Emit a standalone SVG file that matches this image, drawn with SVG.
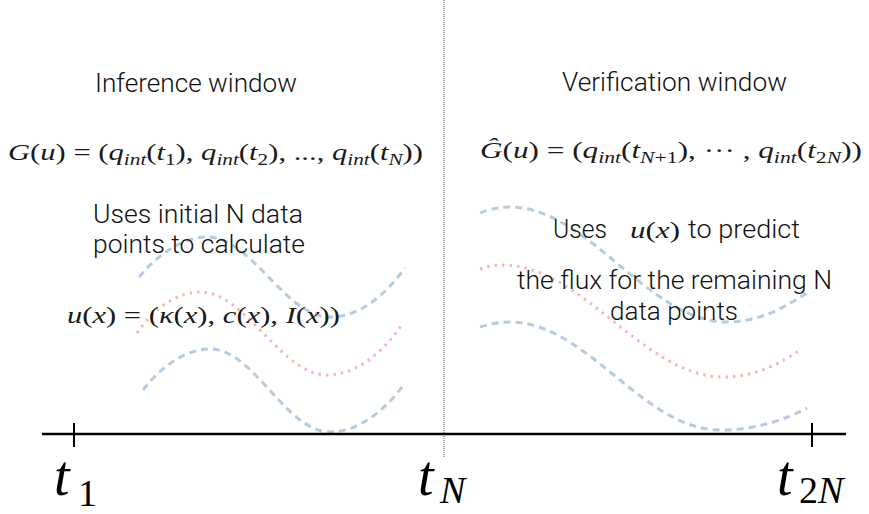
<svg xmlns="http://www.w3.org/2000/svg" width="869" height="514" viewBox="0 0 869 514">
<style>
.txt{font-family:Roboto,"Liberation Sans",Arial,sans-serif;font-weight:300;font-size:26px;fill:#111}
.m{font-family:"Liberation Serif","Times New Roman",serif;font-size:23px;fill:#1a1a1a}
.i{font-style:italic}
.s{font-size:16px}
.big{font-family:"Liberation Serif","Times New Roman",serif;fill:#000}
.blue{fill:none;stroke:#b6cbe0;stroke-width:3;stroke-dasharray:7 5}
.red{fill:none;stroke:#f8b6ae;stroke-width:3;stroke-dasharray:2.5 5}
</style>
<g id="curves-left">
<path class="blue" d="M139,277 C160,252 185,237 207,237 C252,237 285,317 330,317 C360,317 385,295 405,268"/>
<path class="red" d="M137,333 C155,307 178,292 200,292 C246,292 281,375 327,375 C358,375 385,350 403,323"/>
<path class="blue" d="M143,390 C163,364 188,349 210,349 C254,349 286,432 330,432 C360,432 387,408 405,383"/>
</g>
<g id="curves-right">
<path class="blue" d="M480,213 C490,209 500,207 510,207 C589,207 648,322 727,322 C760,322 785,307 807,293"/>
<path class="red" d="M480,269 C488,266 495,265 503,265 C582,265 644,377 723,377 C757,377 782,362 800,350"/>
<path class="blue" d="M480,327 C490,324 500,322 510,322 C587,322 643,430 720,430 C755,430 785,420 807,408"/>
</g>
<g id="connectors">
<line x1="444" y1="0" x2="444" y2="458" stroke="#555" stroke-width="1" stroke-dasharray="1 1"/>
<line x1="42" y1="434" x2="846" y2="434" stroke="#000" stroke-width="2.5"/>
<line x1="74" y1="423" x2="74" y2="447" stroke="#000" stroke-width="2"/>
<line x1="812" y1="423" x2="812" y2="447" stroke="#000" stroke-width="2"/>
</g>
<g id="inference-window">
<text class="txt" x="95" y="92" textLength="202" lengthAdjust="spacingAndGlyphs">Inference window</text>
<text class="m" x="8" y="160" textLength="415" lengthAdjust="spacingAndGlyphs"><tspan class="i">G</tspan>(<tspan class="i">u</tspan>) = (<tspan class="i">q</tspan><tspan class="i s" dy="5">int</tspan><tspan dy="-5">(</tspan><tspan class="i">t</tspan><tspan class="s" dy="5">1</tspan><tspan dy="-5">), </tspan><tspan class="i">q</tspan><tspan class="i s" dy="5">int</tspan><tspan dy="-5">(</tspan><tspan class="i">t</tspan><tspan class="s" dy="5">2</tspan><tspan dy="-5">), ..., </tspan><tspan class="i">q</tspan><tspan class="i s" dy="5">int</tspan><tspan dy="-5">(</tspan><tspan class="i">t</tspan><tspan class="i s" dy="5">N</tspan><tspan dy="-5">))</tspan></text>
<text class="txt" x="93" y="223" textLength="210" lengthAdjust="spacingAndGlyphs">Uses initial N data</text>
<text class="txt" x="93" y="253" textLength="212" lengthAdjust="spacingAndGlyphs">points to calculate</text>
<text class="m" x="67" y="323" textLength="273" lengthAdjust="spacingAndGlyphs"><tspan class="i">u</tspan>(<tspan class="i">x</tspan>) = (<tspan class="i">κ</tspan>(<tspan class="i">x</tspan>), <tspan class="i">c</tspan>(<tspan class="i">x</tspan>), <tspan class="i">I</tspan>(<tspan class="i">x</tspan>))</text>
</g>
<g id="verification-window">
<text class="txt" x="562" y="91" textLength="225" lengthAdjust="spacingAndGlyphs">Verification window</text>
<text class="m" x="480" y="158" textLength="382" lengthAdjust="spacingAndGlyphs"><tspan class="i">Ĝ</tspan>(<tspan class="i">u</tspan>) = (<tspan class="i">q</tspan><tspan class="i s" dy="5">int</tspan><tspan dy="-5">(</tspan><tspan class="i">t</tspan><tspan class="s" dy="5"><tspan class="i">N</tspan>+1</tspan><tspan dy="-5">), ··· , </tspan><tspan class="i">q</tspan><tspan class="i s" dy="5">int</tspan><tspan dy="-5">(</tspan><tspan class="i">t</tspan><tspan class="s" dy="5">2<tspan class="i">N</tspan></tspan><tspan dy="-5">))</tspan></text>
<text class="txt" x="553" y="238" textLength="54" lengthAdjust="spacingAndGlyphs">Uses</text>
<text class="m" x="630" y="238" font-size="24" textLength="50" lengthAdjust="spacingAndGlyphs"><tspan class="i">u</tspan>(<tspan class="i">x</tspan>)</text>
<text class="txt" x="688" y="238" textLength="112" lengthAdjust="spacingAndGlyphs">to predict</text>
<text class="txt" x="517" y="289" textLength="315" lengthAdjust="spacingAndGlyphs">the flux for the remaining N</text>
<text class="txt" x="610" y="320" textLength="128" lengthAdjust="spacingAndGlyphs">data points</text>
</g>
<g id="axis-labels">
<text class="big" x="54" y="495" font-size="56" font-style="italic">t</text>
<text class="big" x="78" y="506" font-size="38">1</text>
<text class="big" x="418" y="495" font-size="56" font-style="italic">t</text>
<text class="big" x="440" y="503" font-size="38" font-style="italic">N</text>
<text class="big" x="777" y="495" font-size="56" font-style="italic">t</text>
<text class="big" x="799" y="503" font-size="38">2<tspan font-style="italic">N</tspan></text>
</g>
</svg>
